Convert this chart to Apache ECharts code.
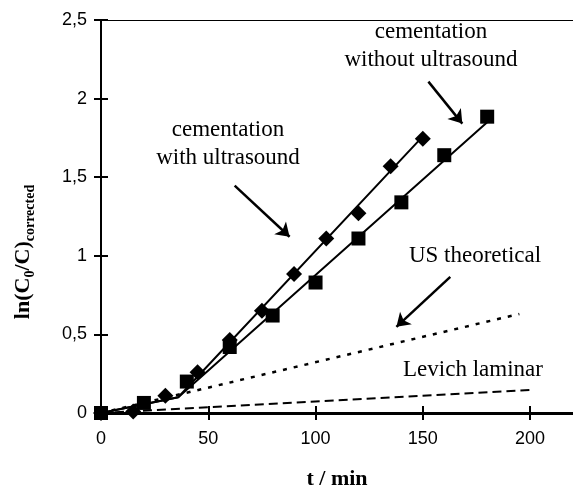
<!DOCTYPE html>
<html><head><meta charset="utf-8">
<script src="https://cdn.jsdelivr.net/npm/echarts@6/dist/echarts.min.js"></script>
<style>html,body{margin:0;padding:0;background:#fff}#c{width:573px;height:488px}</style>
</head><body><div id="c"></div>
<script>
// Data
const tUS = [0, 15, 30, 45, 60, 75, 90, 105, 120, 135, 150];
const yUS = [0, 0.01, 0.11, 0.26, 0.465, 0.65, 0.885, 1.11, 1.27, 1.57, 1.745];
const tNoUS = [0, 20, 40, 60, 80, 100, 120, 140, 160, 180];
const yNoUS = [0, 0.064, 0.2, 0.42, 0.62, 0.83, 1.11, 1.34, 1.64, 1.885];
const fitUS = [[0, 0], [20, 0.055], [36, 0.1], [150, 1.76]];
const fitNoUS = [[0, 0], [20, 0.055], [36, 0.1], [180, 1.85]];
const usTheoretical = [[0, 0], [195, 0.63]];
const levichLaminar = [[0, 0], [200, 0.146]];
const arrows = [
  [[62.3, 1.446], [87.9, 1.121]],
  [[152.6, 2.108], [168.4, 1.841]],
  [[162.8, 0.866], [137.7, 0.548]]
];
const xTicks = [0, 50, 100, 150, 200];
const yTicks = [0, 0.5, 1, 1.5, 2, 2.5];

const sans = "'Liberation Sans', Arial, sans-serif";
const serif = "'Liberation Serif', 'Times New Roman', serif";
const chart = echarts.init(document.getElementById('c'));
const zip = (a, b) => a.map((v, i) => [v, b[i]]);

const baseX = {type: 'value', min: 0, max: 220, gridIndex: 0, splitLine: {show: false}};
const baseY = {type: 'value', min: 0, max: 2.5, interval: 0.5, gridIndex: 0, splitLine: {show: false}};

chart.setOption({
  animation: false,
  grid: {left: 101, right: 0, top: 20, bottom: 75, containLabel: false, outerBoundsMode: 'none'},
  xAxis: [
    Object.assign({}, baseX, {
      position: 'bottom',
      axisLine: {lineStyle: {color: '#000', width: 3}},
      axisTick: {customValues: xTicks, length: 7, lineStyle: {color: '#000', width: 2}},
      axisLabel: {customValues: xTicks, color: '#000', fontFamily: sans, fontSize: 18, margin: 17},
      name: 't / min', nameLocation: 'middle', nameGap: 55,
      nameTextStyle: {fontFamily: serif, fontWeight: 'bold', fontSize: 22, color: '#000'}
    }),
    Object.assign({}, baseX, {
      position: 'bottom',
      axisLine: {show: false},
      axisTick: {customValues: xTicks, inside: true, length: 7, lineStyle: {color: '#000', width: 2}},
      axisLabel: {show: false}
    }),
    Object.assign({}, baseX, {
      position: 'top',
      axisLine: {lineStyle: {color: '#000', width: 1}},
      axisTick: {show: false},
      axisLabel: {show: false}
    })
  ],
  yAxis: [
    Object.assign({}, baseY, {
      position: 'left',
      axisLine: {lineStyle: {color: '#000', width: 2}},
      axisTick: {length: 7, lineStyle: {color: '#000', width: 2}},
      axisLabel: {color: '#000', fontFamily: sans, fontSize: 18, margin: 14,
        formatter: v => String(v).replace('.', ',')}
    }),
    Object.assign({}, baseY, {
      position: 'left',
      axisLine: {show: false},
      axisTick: {inside: true, length: 7, lineStyle: {color: '#000', width: 2}},
      axisLabel: {show: false}
    })
  ],
  graphic: [
    {type: 'text', x: 23, y: 252, rotation: Math.PI / 2,
      style: {
        text: '{m|ln(C}{s|0}{m|/C)}{s|corrected}',
        align: 'center', verticalAlign: 'middle',
        rich: {
          m: {fontFamily: serif, fontWeight: 'bold', fontSize: 22, fill: '#000', lineHeight: 28},
          s: {fontFamily: serif, fontWeight: 'bold', fontSize: 14, fill: '#000', lineHeight: 28, padding: [14, 0, 0, 0]}
        }
      }},
    {type: 'text', x: 228, y: 144, style: {text: 'cementation\nwith ultrasound', align: 'center', verticalAlign: 'middle',
      fontFamily: serif, fontSize: 23, lineHeight: 28, fill: '#000'}},
    {type: 'text', x: 431, y: 46, style: {text: 'cementation\nwithout ultrasound', align: 'center', verticalAlign: 'middle',
      fontFamily: serif, fontSize: 23, lineHeight: 28, fill: '#000'}},
    {type: 'text', x: 475, y: 256, style: {text: 'US theoretical', align: 'center', verticalAlign: 'middle',
      fontFamily: serif, fontSize: 23, fill: '#000'}},
    {type: 'text', x: 473, y: 370, style: {text: 'Levich laminar', align: 'center', verticalAlign: 'middle',
      fontFamily: serif, fontSize: 23, fill: '#000'}}
  ],
  series: [
    {type: 'line', data: usTheoretical, showSymbol: false, lineStyle: {color: '#000', width: 2.5, type: [4, 7]}, z: 2},
    {type: 'line', data: levichLaminar, showSymbol: false, lineStyle: {color: '#000', width: 2, type: [9, 5]}, z: 2},
    {type: 'line', data: fitUS, showSymbol: false, lineStyle: {color: '#000', width: 2}, z: 3},
    {type: 'line', data: fitNoUS, showSymbol: false, lineStyle: {color: '#000', width: 2}, z: 3},
    {type: 'scatter', data: zip(tNoUS, yNoUS), symbol: 'rect', symbolSize: 14, itemStyle: {color: '#000', opacity: 1}, z: 5},
    {type: 'scatter', data: zip(tUS, yUS), symbol: 'diamond', symbolSize: 16, itemStyle: {color: '#000', opacity: 1}, z: 6},
    {type: 'lines', coordinateSystem: 'cartesian2d', data: arrows.map(a => ({coords: a})),
      symbol: ['none', 'arrow'], symbolSize: 13, lineStyle: {color: '#000', width: 2.5, opacity: 1}, z: 7}
  ]
});
</script></body></html>
